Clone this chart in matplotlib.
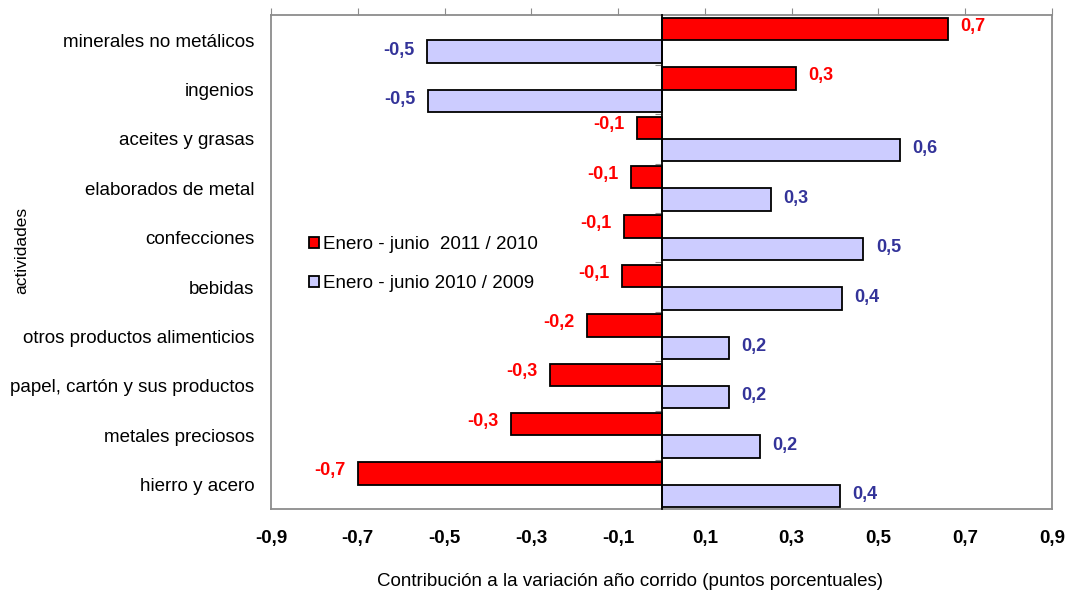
import matplotlib
matplotlib.use("Agg")
import matplotlib.pyplot as plt
import numpy as np

plt.rcParams['font.family'] = ['Liberation Sans', 'DejaVu Sans']

# datos
actividades = ["minerales no metálicos", "ingenios", "aceites y grasas",
               "elaborados de metal", "confecciones", "bebidas",
               "otros productos alimenticios", "papel, cartón y sus productos",
               "metales preciosos", "hierro y acero"]
serie_2011 = [0.66, 0.31, -0.056, -0.071, -0.086, -0.09, -0.172, -0.256, -0.347, -0.70]
serie_2010 = [-0.54, -0.538, 0.55, 0.252, 0.465, 0.416, 0.155, 0.156, 0.227, 0.411]
etiq_2011 = ["0,7", "0,3", "-0,1", "-0,1", "-0,1", "-0,1", "-0,2", "-0,3", "-0,3", "-0,7"]
etiq_2010 = ["-0,5", "-0,5", "0,6", "0,3", "0,5", "0,4", "0,2", "0,2", "0,2", "0,4"]
ticks = [-0.9, -0.7, -0.5, -0.3, -0.1, 0.1, 0.3, 0.5, 0.7, 0.9]
tick_labels = ["-0,9", "-0,7", "-0,5", "-0,3", "-0,1", "0,1", "0,3", "0,5", "0,7", "0,9"]
nombre_2011 = "Enero - junio  2011 / 2010"
nombre_2010 = "Enero - junio 2010 / 2009"

ROJO = "#FF0000"
LILA = "#CCCCFF"
AZUL = "#333399"
GRIS = "#8C8C8C"

W, H = 1067, 591
fig = plt.figure(figsize=(W / 100, H / 100), dpi=100)
ax = fig.add_axes([271 / W, 1 - 509 / H, 781 / W, 494 / H])

y = np.arange(len(actividades))
h = 0.455
ax.barh(y - h / 2, serie_2011, height=h, color=ROJO, edgecolor="black",
        linewidth=1.3, label=nombre_2011, zorder=2)
ax.barh(y + h / 2, serie_2010, height=h, color=LILA, edgecolor="black",
        linewidth=1.3, label=nombre_2010, zorder=2)

# etiquetas de valor
for yi, v, t in zip(y, serie_2011, etiq_2011):
    ax.annotate(t, (v, yi - h / 2), xytext=(9 if v >= 0 else -9, 2),
                textcoords="offset points", color=ROJO, fontsize=13,
                fontweight="bold", va="center", ha="left" if v >= 0 else "right")
for yi, v, t in zip(y, serie_2010, etiq_2010):
    ax.annotate(t, (v, yi + h / 2), xytext=(9 if v >= 0 else -9, 1),
                textcoords="offset points", color=AZUL, fontsize=13,
                fontweight="bold", va="center", ha="left" if v >= 0 else "right")

ax.set_xlim(-0.9, 0.9)
ax.set_ylim(9.49, -0.51)
ax.set_yticks(y)
ax.set_yticklabels(actividades, fontsize=13.5)
ax.tick_params(axis="y", length=0, pad=12)
ax.set_xticks(ticks)
ax.set_xticklabels(tick_labels, fontsize=13.5, fontweight="bold")
ax.tick_params(axis="x", bottom=False, top=True, labelbottom=True,
               labeltop=False, direction="out", length=5, color=GRIS, pad=10)
for s in ax.spines.values():
    s.set_color(GRIS)
    s.set_linewidth(1.3)

# eje vertical en cero con marcas entre categorías
eje0 = ax.secondary_yaxis(0.5)
eje0.set_yticks(y[:-1] + 0.5)
eje0.tick_params(axis="y", left=True, right=False, labelleft=False,
                 labelright=False, direction="out", length=5, color=GRIS)
for s in eje0.spines.values():
    s.set_color("black")
    s.set_linewidth(1.3)
eje0.set_zorder(3)

fig.text(22 / W, 1 - 250 / H, "actividades", rotation=90, fontsize=12.5,
         ha="center", va="center")
fig.text(630 / W, 1 - 581 / H,
         "Contribución a la variación año corrido (puntos porcentuales)",
         fontsize=13.5, ha="center", va="center")

ax.legend(loc="upper left", bbox_to_anchor=(0.0385, 0.568), frameon=False,
          fontsize=13.5, handlelength=0.55, handleheight=0.55,
          handletextpad=0.2, labelspacing=1.2, borderaxespad=0)

fig.savefig("out.png", dpi=100)
